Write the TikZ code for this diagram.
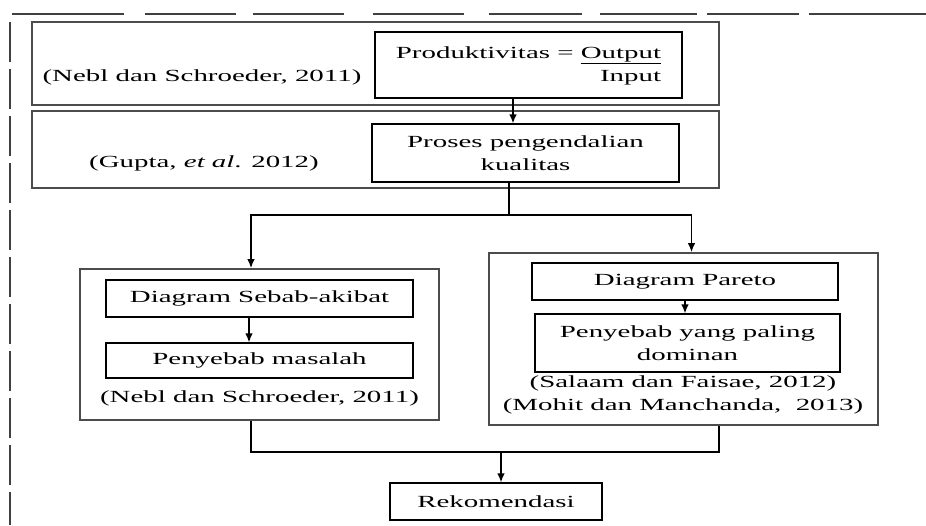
\documentclass[tikz,border=0pt]{standalone}
\usepackage{fontspec}
\setmainfont[FakeStretch=1.7]{Liberation Serif}
\usetikzlibrary{arrows.meta}

\begin{document}
\begin{tikzpicture}[x=1pt,y=-1pt,>={Latex[length=9pt,width=7.5pt]},line width=1.3pt,
    font=\fontsize{17}{23}\selectfont,
    group/.style 2 args={draw=black!70,line width=1.8pt,minimum width=#1,minimum height=#2},
    box/.style 2 args={draw,minimum width=#1,minimum height=#2,align=center,inner sep=1pt}]
        \useasboundingbox (0,0) rectangle (926,525);
        % page frame
        \foreach \a/\b in {12/124,145/236,253/344,373/464,489/582,600/697,707/799,809/926}
            \draw[black!75,line width=1.6pt] (\a,14) -- (\b,14);
        \draw[black!75,line width=1.6pt,dash pattern=on 40pt off 7pt] (10,22) -- (10,525);
        % upper part
        \node[group={687pt}{83pt}] (frame1) at (375.5,63.5) {};
        \node[group={687pt}{77pt}] (frame2) at (375.5,149.5) {};
        \node[box={307pt}{66pt}] (prod) at (528.5,65) {\begin{tabular}{@{}r@{}}Produktivitas = \underline{Output}\\ Input\end{tabular}};
        \node (cite1) at (202,77) {(Nebl dan Schroeder, 2011)};
        \node[box={307pt}{58pt}] (proc) at (525.5,153) {Proses pengendalian\\ kualitas};
        \node (cite2) at (204,163) {(Gupta, \textit{et al}. 2012)};
        \draw[->] ([xshift=-15.5pt]prod.south) -- ([xshift=-12.5pt]proc.north);
        % two branches
        \node[group={359pt}{151pt}] (cause) at (259.5,344.5) {};
        \node[box={307pt}{37pt}] (fishbone) at (259.5,298.5) {Diagram Sebab-akibat};
        \node[box={307pt}{35pt}] (problem) at (259.5,360.5) {Penyebab masalah};
        \node (cite3) at (259.5,398) {(Nebl dan Schroeder, 2011)};
        \node[group={389pt}{172pt}] (pareto) at (683.5,339) {};
        \node[box={306pt}{37pt}] (chart) at (685,281.5) {Diagram Pareto};
        \node[box={305pt}{58pt}] (dominant) at (687.5,343) {Penyebab yang paling\\ dominan};
        \node[align=center] (cite4) at (683,395) {(Salaam dan Faisae, 2012)\\ (Mohit dan Manchanda,\ \ 2013)};
        \coordinate (split) at (509,215);
        \draw ([xshift=-16.5pt]proc.south) -- (split);
        \draw[->] (split) -| ([xshift=-8.5pt]cause.north);
        \draw[->] (split) -| ([xshift=8pt]pareto.north);
        \draw[->] ([xshift=-10.5pt]fishbone.south) -- ([xshift=-10.5pt]problem.north);
        \draw[->] (chart.south) -- (chart.south |- dominant.north);
        % result
        \node[box={212pt}{37pt}] (rekom) at (496,501.5) {Rekomendasi};
        \coordinate (merge) at (501,452);
        \draw ([xshift=-8.5pt]cause.south) |- (merge);
        \draw ([xshift=35.5pt]pareto.south) |- (merge);
        \draw[->] (merge) -- (merge |- rekom.north);
    \end{tikzpicture}
\end{document}
